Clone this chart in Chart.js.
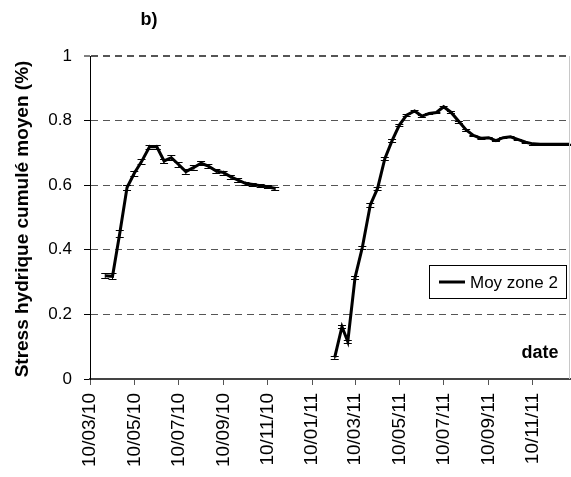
<!DOCTYPE html>
<html>
<head>
<meta charset="utf-8">
<script src="https://cdn.jsdelivr.net/npm/chart.js@4.4.1/dist/chart.umd.min.js"></script>
<style>
html, body { margin: 0; padding: 0; background: #fff; }
#wrap { width: 571px; height: 477px; }
</style>
</head>
<body>
<div id="wrap"><canvas id="cvStress" width="571" height="477"></canvas></div>
<script>
// 2010 season (decadal values)
const dates2010 = ["2010-03-31","2010-04-10","2010-04-20","2010-04-30","2010-05-10","2010-05-20","2010-05-31",
    "2010-06-10","2010-06-20","2010-06-30","2010-07-10","2010-07-20","2010-07-31","2010-08-10","2010-08-20",
    "2010-08-31","2010-09-10","2010-09-20","2010-09-30","2010-10-10","2010-10-20","2010-10-31","2010-11-10","2010-11-20"];
const values2010 = [0.320,0.318,0.451,0.593,0.637,0.673,0.719,0.719,0.675,0.685,0.664,0.642,0.655,0.668,0.659,
    0.644,0.639,0.626,0.616,0.606,0.602,0.598,0.595,0.590];
const errors2010 = [0.007,0.009,0.010,0.008,0.008,0.008,0.006,0.006,0.007,0.007,0.007,0.007,0.007,0.007,0.006,
    0.006,0.006,0.006,0.006,0.005,0.005,0.005,0.005,0.005];

// 2011 season
const dates2011 = ["2011-02-10","2011-02-20","2011-02-28","2011-03-10","2011-03-20","2011-03-31","2011-04-10",
    "2011-04-20","2011-04-30","2011-05-10","2011-05-20","2011-05-31","2011-06-10","2011-06-20","2011-06-30",
    "2011-07-10","2011-07-20","2011-07-31","2011-08-10","2011-08-20","2011-08-31","2011-09-10","2011-09-20",
    "2011-09-30","2011-10-10","2011-10-20","2011-10-31","2011-11-10","2011-11-20","2011-11-30","2011-12-10",
    "2011-12-20","2011-12-31"];
const values2011 = [0.067,0.162,0.116,0.314,0.407,0.539,0.590,0.682,0.738,0.786,0.817,0.830,0.814,0.822,0.825,
    0.843,0.826,0.797,0.771,0.754,0.745,0.747,0.738,0.747,0.750,0.742,0.733,0.728,0.727,0.727,0.727,0.727,0.727];
const errors2011 = [0.005,0.005,0.005,0.005,0.005,0.005,0.005,0.005,0.004,0.004,0.003,0.003,0.003,0.003,0.003,
    0.003,0.003,0.003,0.003,0.002,0.002,0.002,0.002,0.002,0.002,0.002,0.002,0.002,0.002,0.002,0.002,0.002,0.002];

const tickDates = ["2010-03-10","2010-05-10","2010-07-10","2010-09-10","2010-11-10","2011-01-10",
    "2011-03-10","2011-05-10","2011-07-10","2011-09-10","2011-11-10"];
const tickLabels = ["10/03/10","10/05/10","10/07/10","10/09/10","10/11/10","10/01/11",
    "10/03/11","10/05/11","10/07/11","10/09/11","10/11/11"];
const yTicks = [0, 0.2, 0.4, 0.6, 0.8, 1];

const seriesName = "Moy zone 2";
const yTitle = "Stress hydrique cumulé moyen (%)";
const xTitle = "date";
const panelTitle = "b)";

const FONT = '"Liberation Sans", Arial, sans-serif';

const dayOf = (s) => {
    const p = s.split("-").map(Number);
    return (Date.UTC(p[0], p[1] - 1, p[2]) - Date.UTC(2010, 2, 10)) / 86400000;
};

const points = [];
const errs = [];
dates2010.forEach((d, i) => { points.push({x: dayOf(d), y: values2010[i]}); errs.push(errors2010[i]); });
points.push({x: (dayOf(dates2010[dates2010.length - 1]) + dayOf(dates2011[0])) / 2, y: null}); errs.push(null);
dates2011.forEach((d, i) => { points.push({x: dayOf(d), y: values2011[i]}); errs.push(errors2011[i]); });

const errorBarPlugin = {
    id: "errorBars",
    afterDatasetsDraw(chart) {
        const ctx = chart.ctx;
        const xs = chart.scales.x, ys = chart.scales.y;
        ctx.save();
        ctx.strokeStyle = "#000";
        ctx.lineWidth = 1;
        points.forEach((p, i) => {
            if (p.y === null || !errs[i]) return;
            const px = xs.getPixelForValue(p.x);
            const top = ys.getPixelForValue(p.y + errs[i]);
            const bot = ys.getPixelForValue(p.y - errs[i]);
            ctx.beginPath();
            ctx.moveTo(px, top); ctx.lineTo(px, bot);
            ctx.moveTo(px - 4, Math.round(top) + 0.5); ctx.lineTo(px + 4, Math.round(top) + 0.5);
            ctx.moveTo(px - 4, Math.round(bot) + 0.5); ctx.lineTo(px + 4, Math.round(bot) + 0.5);
            ctx.stroke();
        });
        ctx.restore();
    }
};

const decorPlugin = {
    id: "decor",
    afterDraw(chart) {
        const ctx = chart.ctx;
        const area = chart.chartArea;
        ctx.save();
        // right edge of plot area
        ctx.strokeStyle = "#c8c8c8";
        ctx.lineWidth = 1;
        ctx.beginPath();
        ctx.moveTo(area.right - 0.5, area.top);
        ctx.lineTo(area.right - 0.5, area.bottom);
        ctx.stroke();

        ctx.fillStyle = "#000";
        ctx.font = "bold 18px " + FONT;
        ctx.textAlign = "center";
        ctx.textBaseline = "alphabetic";
        ctx.fillText(panelTitle, 149, 25);
        ctx.fillText(xTitle, 540, 358);

        // legend
        ctx.strokeStyle = "#000";
        ctx.lineWidth = 1;
        ctx.strokeRect(429.5, 265.5, 137, 33);
        ctx.lineWidth = 3;
        ctx.beginPath();
        ctx.moveTo(439, 282); ctx.lineTo(465, 282);
        ctx.stroke();
        ctx.font = "17px " + FONT;
        ctx.textAlign = "left";
        ctx.textBaseline = "middle";
        ctx.fillText(seriesName, 470, 283);

        // y axis title
        ctx.translate(23, 219);
        ctx.rotate(-Math.PI / 2);
        ctx.font = "bold 19px " + FONT;
        ctx.textAlign = "center";
        ctx.textBaseline = "middle";
        ctx.fillText(yTitle, 0, 0);
        ctx.restore();
    }
};

const ctx = document.getElementById("cvStress").getContext("2d");
const myChart = new Chart(ctx, {
    type: "line",
    data: {
        datasets: [{
            label: seriesName,
            data: points,
            borderColor: "#000",
            backgroundColor: "#000",
            borderWidth: 3,
            pointRadius: 0,
            tension: 0,
            fill: false,
            spanGaps: false
        }]
    },
    options: {
        responsive: false,
        animation: false,
        devicePixelRatio: 1,
        layout: { padding: { top: 56, right: 1, left: 0, bottom: 0 } },
        plugins: {
            legend: { display: false },
            tooltip: { enabled: false }
        },
        scales: {
            x: {
                type: "linear",
                min: 0,
                max: dayOf("2011-12-31"),
                afterBuildTicks: (s) => { s.ticks = tickDates.map(d => ({value: dayOf(d)})); },
                afterFit: (s) => { s.height = 98; },
                ticks: {
                    autoSkip: false,
                    minRotation: 90,
                    maxRotation: 90,
                    padding: 8,
                    color: "#000",
                    font: { family: FONT, size: 19 },
                    callback: (v, i) => tickLabels[i]
                },
                grid: { drawOnChartArea: false, drawTicks: true, tickLength: 6, tickColor: "#555", tickWidth: 1 },
                border: { color: "#444", width: 2 }
            },
            y: {
                min: 0,
                max: 1,
                afterBuildTicks: (s) => { s.ticks = yTicks.map(v => ({value: v})); },
                afterFit: (s) => { s.width = 90; },
                ticks: {
                    padding: 12,
                    color: "#000",
                    font: { family: FONT, size: 17 },
                    callback: (v) => String(v)
                },
                grid: {
                    color: (c) => c.tick && c.tick.value === 0 ? "rgba(0,0,0,0)" : "#555",
                    lineWidth: (c) => c.tick && c.tick.value === 1 ? 2 : 1,
                    tickColor: "#000",
                    tickWidth: 1,
                    tickLength: 6,
                    tickBorderDash: []
                },
                border: { color: "#000", width: 1, dash: [7, 5] }
            }
        }
    },
    plugins: [errorBarPlugin, decorPlugin]
});
</script>
</body>
</html>
